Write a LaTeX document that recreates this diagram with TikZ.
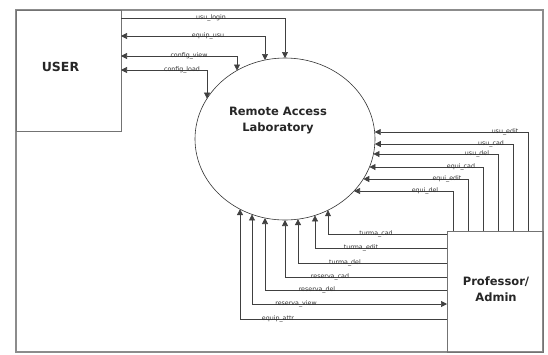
\documentclass[tikz,border=0pt]{standalone}
\usepackage{fontspec}
\setmainfont{DejaVu Sans}
\usetikzlibrary{arrows.meta,shapes.geometric}

\tikzset{
  frame/.style={draw=black!45, line width=1.2pt},
  box/.style={draw=black!55, line width=0.9pt, inner sep=0pt, outer sep=0pt},
  flow/.style={draw=black!75, line width=0.7pt},
  lbl/.style={font=\fontsize{6.3}{6}\selectfont, text=black!80, inner sep=0pt, yshift=0.6pt},
  title/.style={font=\fontsize{11.5}{16}\selectfont\bfseries, text=black!85, align=center}
}

\begin{document}
\begin{tikzpicture}[x=1pt, y=-1pt, >={Triangle[length=6pt,width=6pt]}]
    \useasboundingbox (0,0) rectangle (548,354);
    \draw[frame] (16,10) rectangle (543,352);

    \node[box, minimum width=105pt, minimum height=121pt,
          label={[title, font=\fontsize{12.5}{14}\selectfont\bfseries, xshift=-8pt, yshift=4pt]center:USER}] (user) at (68.5,70.5) {};
    \node[box, minimum width=96pt, minimum height=121pt] (prof) at (495,291.5) {};
    \node[title] (proftext) at (496,289) {Professor/\\Admin};
    \node[ellipse, draw=black!80, line width=0.6pt, minimum width=180pt, minimum height=162pt,
          inner sep=0pt, outer sep=0pt] (lab) at (285,139) {};
    \node[title] (labtext) at (278,121) {Remote Access\\Laboratory};

    % user side
    \coordinate (u1) at (285,18);  \coordinate (u1e) at (285,58);
    \coordinate (u2) at (265,36);  \coordinate (u2e) at (265,60);
    \coordinate (u3) at (237,56);  \coordinate (u3e) at (237,70.5);
    \coordinate (u4) at (207,70);  \coordinate (u4e) at (207,98.6);

    \draw[flow, ->] (user.east |- u1) -- (u1) -- (u1e);
    \draw[flow, <->] (user.east |- u2) -- (u2) -- (u2e);
    \draw[flow, <->] (user.east |- u3) -- (u3) -- (u3e);
    \draw[flow, <->] (user.east |- u4) -- (u4) -- (u4e);

    \node[lbl] (lu1) at (211,18) {usu\_login};
    \node[lbl] (lu2) at (208,36) {equip\_usu};
    \node[lbl] (lu3) at (189,56) {config\_view};
    \node[lbl] (lu4) at (182,70) {config\_load};

    % professor, right side
    \coordinate (r1) at (528,132); \coordinate (r1e) at (374.7,132);
    \coordinate (r2) at (513,144); \coordinate (r2e) at (374.8,144);
    \coordinate (r3) at (498,154); \coordinate (r3e) at (373.4,154);
    \coordinate (r4) at (483,167); \coordinate (r4e) at (369.4,167);
    \coordinate (r5) at (468,179); \coordinate (r5e) at (363.3,179);
    \coordinate (r6) at (453,191); \coordinate (r6e) at (354.0,191);

    \draw[flow, ->] (prof.north -| r1) -- (r1) -- (r1e);
    \draw[flow, ->] (prof.north -| r2) -- (r2) -- (r2e);
    \draw[flow, ->] (prof.north -| r3) -- (r3) -- (r3e);
    \draw[flow, ->] (prof.north -| r4) -- (r4) -- (r4e);
    \draw[flow, ->] (prof.north -| r5) -- (r5) -- (r5e);
    \draw[flow, ->] (prof.north -| r6) -- (r6) -- (r6e);

    \node[lbl] (lr1) at (505,132) {usu\_edit};
    \node[lbl] (lr2) at (491,144) {usu\_cad};
    \node[lbl] (lr3) at (477,154) {usu\_del};
    \node[lbl] (lr4) at (461,167) {equi\_cad};
    \node[lbl] (lr5) at (447,179) {equi\_edit};
    \node[lbl] (lr6) at (425,191) {equi\_del};

    % professor, bottom side
    \coordinate (b1) at (328,234); \coordinate (b1e) at (328,210.2);
    \coordinate (b2) at (315,248); \coordinate (b2e) at (315,215.4);
    \coordinate (b3) at (298,263); \coordinate (b3e) at (298,219.1);
    \coordinate (b4) at (285,277); \coordinate (b4e) at (285,220);
    \coordinate (b5) at (265,290); \coordinate (b5e) at (265,218);
    \coordinate (b6) at (252,304); \coordinate (b6e) at (252,214.4);
    \coordinate (b7) at (240,319); \coordinate (b7e) at (240,209.1);

    \draw[flow, ->] (prof.west |- b1) -- (b1) -- (b1e);
    \draw[flow, ->] (prof.west |- b2) -- (b2) -- (b2e);
    \draw[flow, ->] (prof.west |- b3) -- (b3) -- (b3e);
    \draw[flow, ->] (prof.west |- b4) -- (b4) -- (b4e);
    \draw[flow, ->] (prof.west |- b5) -- (b5) -- (b5e);
    \draw[flow, <->] (prof.west |- b6) -- (b6) -- (b6e);
    \draw[flow, ->] (prof.west |- b7) -- (b7) -- (b7e);

    \node[lbl] (lb1) at (376,234) {turma\_cad};
    \node[lbl] (lb2) at (361,248) {turma\_edit};
    \node[lbl] (lb3) at (345,263) {turma\_del};
    \node[lbl] (lb4) at (330,277) {reserva\_cad};
    \node[lbl] (lb5) at (317,290) {reserva\_del};
    \node[lbl] (lb6) at (296,304) {reserva\_view};
    \node[lbl] (lb7) at (278,319) {equip\_attr};
\end{tikzpicture}
\end{document}
